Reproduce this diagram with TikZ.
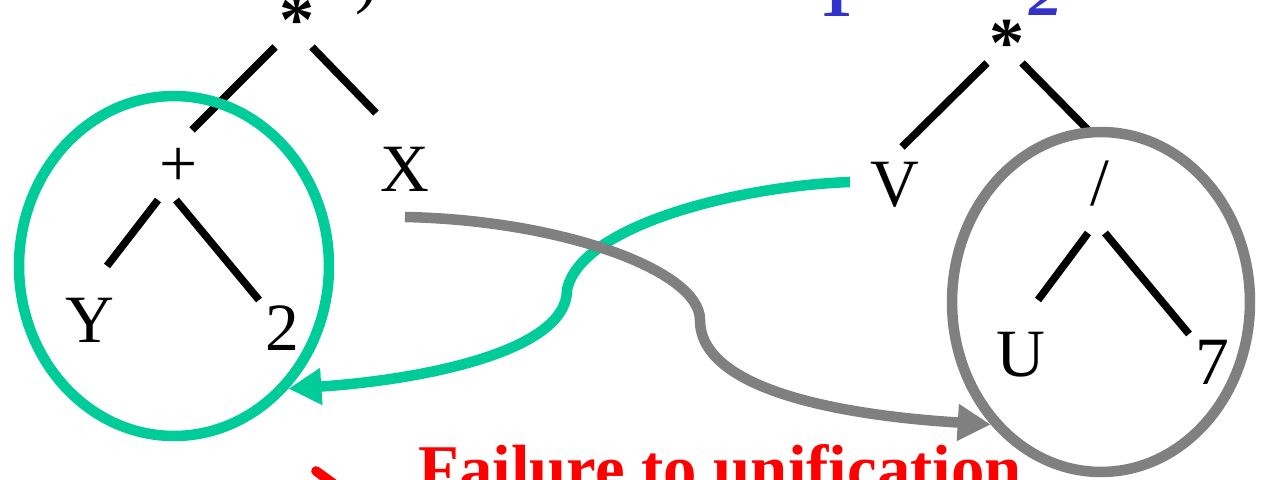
\documentclass[tikz,border=0pt]{standalone}
\usepackage{fontspec}
\setmainfont{Liberation Serif}
\usetikzlibrary{arrows.meta,shapes.geometric}
\definecolor{unigreen}{RGB}{0,204,153}
\definecolor{unigray}{RGB}{128,128,128}
\definecolor{uniblue}{RGB}{51,51,204}
\definecolor{unired}{RGB}{255,0,0}
\begin{document}
\begin{tikzpicture}[x=0.02cm,y=-0.02cm,
  lbl/.style={inner sep=0pt, font=\fontsize{38.5}{40}\selectfont},
  opstar/.style={lbl, font=\fontsize{40}{40}\selectfont\bfseries},
  branch/.style={line width=4.3pt, line cap=butt},
  ring/.style={shape=ellipse, draw, line width=6pt, inner sep=0pt},
  link/.style={line width=6pt, -{Triangle[length=6.6mm,width=7mm]}},
  ]
\useasboundingbox (0,0) rectangle (1262,480);
\clip (0,0) rectangle (1262,480);

% cropped fragments of the title lines
\node[lbl, anchor=south west] (paren) at (355,15) {)};
\node[lbl, anchor=base, text=uniblue, font=\fontsize{38}{40}\selectfont\bfseries] (subone) at (836,16) {1};
\node[lbl, anchor=base, text=uniblue, font=\fontsize{38}{40}\selectfont\bfseries\itshape] (subtwo) at (1046,15) {2};

% left tree
\node[opstar] (lstar) at (297,20) {*};
\node[lbl] (plus) at (179,167) {+};
\node[lbl] (X) at (405,169) {X};
\node[lbl] (Y) at (90,320) {Y};
\node[lbl] (two) at (282,328) {2};

% right tree
\node[opstar] (rstar) at (1007,43) {*};
\node[lbl] (V) at (895,185) {V};
\node[lbl] (slash) at (1100,184) {/};
\node[lbl] (U) at (1021,355) {U};
\node[lbl] (seven) at (1212,362) {7};

% branch end points
\coordinate (a1) at (275,47);  \coordinate (a2) at (192,130);
\coordinate (b1) at (312,47);  \coordinate (b2) at (376,113);
\coordinate (c1) at (158,200); \coordinate (c2) at (107,266);
\coordinate (d1) at (176,200); \coordinate (d2) at (259,300);
\coordinate (e1) at (987,63);  \coordinate (e2) at (902,147);
\coordinate (f1) at (1022,63); \coordinate (f2) at (1090,132);
\coordinate (g1) at (1088,233); \coordinate (g2) at (1038,300);
\coordinate (h1) at (1105,233); \coordinate (h2) at (1189,334);

\draw[branch] (a1) -- (a2);
\draw[branch] (b1) -- (b2);
\draw[branch] (c1) -- (c2);
\draw[branch] (d1) -- (d2);
\draw[branch] (e1) -- (e2);
\draw[branch] (f1) -- (f2);
\draw[branch] (g1) -- (g2);
\draw[branch] (h1) -- (h2);

% groups (drawn over the branch ends)
\node[ring, unigreen, minimum width=6.2cm, minimum height=6.8cm] (lring) at (174,266) {};
\node[ring, unigray, minimum width=5.96cm, minimum height=6.8cm] (rring) at (1101,302) {};

% links
\coordinate (vfoot) at (850,182);
\coordinate (xfoot) at (405,217);
\draw[link, unigreen] (vfoot) .. controls (740,186) and (580,225) .. (567,290)
      .. controls (567,352) and (420,380) .. (lring.-47);
\draw[link, unigray] (xfoot) .. controls (560,220) and (700,270) .. (700,320)
      .. controls (700,392) and (850,416) .. (rring.-132);

% bottom caption (cropped)
\draw[unired, line width=5.5pt, line cap=round] (316,471) -- (345,492);
\node[anchor=base west, inner sep=0pt, text=unired, font=\fontsize{38}{40}\selectfont\bfseries] (fail) at (418,491) {Failure to unification};
\end{tikzpicture}
\end{document}
